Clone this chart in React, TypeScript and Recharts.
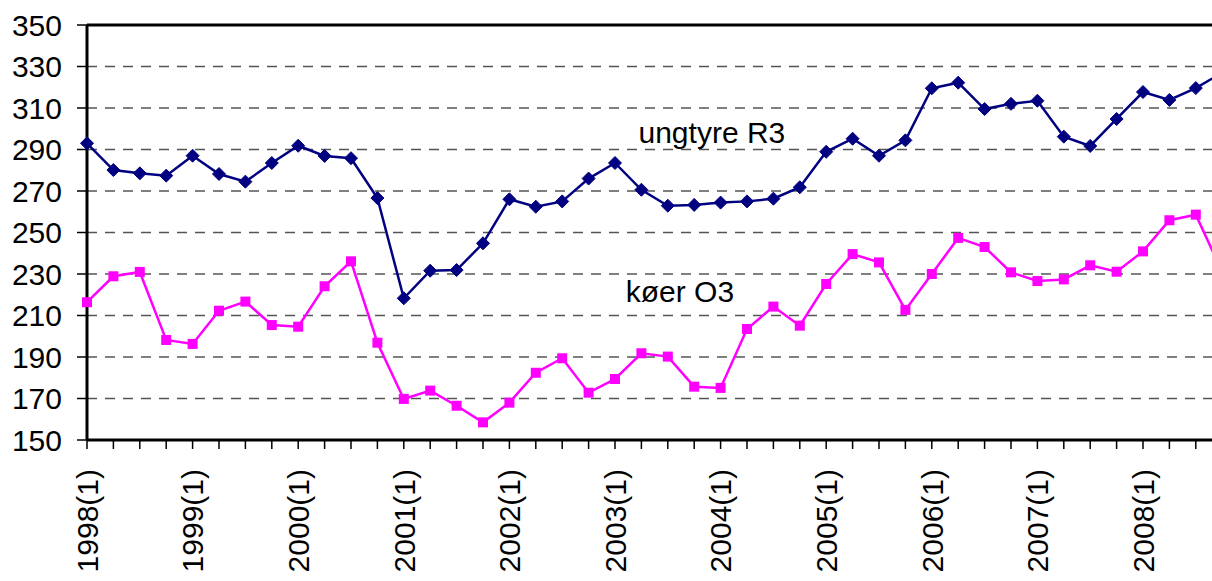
import React from 'react';
import {
  LineChart,
  Line,
  XAxis,
  YAxis,
  CartesianGrid,
  ReferenceLine,
  ReferenceDot,
} from 'recharts';

const years = ['1998', '1999', '2000', '2001', '2002', '2003', '2004', '2005', '2006', '2007', '2008'];
const quarters = years.flatMap((y) => [`${y}(1)`, `${y}(2)`, `${y}(3)`, `${y}(4)`]);

// ungtyre R3
const ungtyre = [
  293.0, 280.1, 278.5, 277.4, 287.0, 278.2, 274.5, 283.5,
  291.8, 286.9, 285.8, 266.6, 218.3, 231.6, 231.9, 244.8,
  266.0, 262.4, 265.0, 276.0, 283.5, 270.6, 262.9, 263.3,
  264.4, 265.0, 266.3, 271.8, 288.9, 295.2, 287.0, 294.4,
  319.5, 322.2, 309.5, 312.0, 313.5, 296.2, 291.7, 304.7,
  317.7, 313.9, 319.6, 327.0,
];

// køer O3
const koer = [
  216.4, 228.9, 231.0, 198.2, 196.3, 212.3, 216.7, 205.4,
  204.6, 224.1, 236.1, 196.9, 169.8, 173.8, 166.5, 158.5,
  168.0, 182.4, 189.4, 172.8, 179.4, 191.8, 190.2, 175.7,
  175.1, 203.5, 214.3, 205.1, 225.2, 239.6, 235.6, 212.7,
  230.0, 247.4, 243.0, 230.8, 226.6, 227.4, 234.2, 231.1,
  240.9, 255.9, 258.6, 231.0,
];

const yTicks = [150, 170, 190, 210, 230, 250, 270, 290, 310, 330, 350];

const data = quarters.map((q, i) => ({ i, q, ungtyre: ungtyre[i], koer: koer[i] }));
const xTicks = data.map((d) => d.i);

const FONT = '"Liberation Sans", Arial, sans-serif';

const Diamond = (props: any) => {
  const { cx, cy } = props;
  if (cx == null || cy == null) return null;
  const s = 6.5;
  return (
    <polygon
      points={`${cx},${cy - s} ${cx + s},${cy} ${cx},${cy + s} ${cx - s},${cy}`}
      fill="#000080"
      stroke="#000080"
      strokeWidth={1}
    />
  );
};

const Square = (props: any) => {
  const { cx, cy } = props;
  if (cx == null || cy == null) return null;
  const s = 5;
  return <rect x={cx - s} y={cy - s} width={s * 2} height={s * 2} fill="#FF00FF" />;
};

const XTick = (props: any) => {
  const { x, y, payload } = props;
  if (payload.value % 4 !== 0) return null;
  const label = quarters[payload.value];
  return (
    <text
      x={x}
      y={y + 18}
      transform={`rotate(-90, ${x}, ${y + 18})`}
      textAnchor="end"
      dy="0.36em"
      fontSize={30}
      fontFamily={FONT}
      fill="#000"
    >
      {label}
    </text>
  );
};

export default function App() {
  return (
    <div
      style={{
        position: 'absolute',
        left: 0,
        top: 0,
        width: 1212,
        height: 581,
        overflow: 'hidden',
        background: '#fff',
      }}
    >
      <LineChart
        width={1240}
        height={581}
        data={data}
        margin={{ top: 25, right: 17.8, left: 0, bottom: 0 }}
      >
        <CartesianGrid vertical={false} stroke="#555" strokeDasharray="10 8" strokeWidth={1.5} />
        <XAxis
          dataKey="i"
          type="number"
          domain={[0, 43]}
          ticks={xTicks}
          interval={0}
          height={141}
          tick={<XTick />}
          tickSize={9}
          tickLine={{ stroke: '#000', strokeWidth: 1.5 }}
          axisLine={{ stroke: '#000', strokeWidth: 3 }}
        />
        <YAxis
          type="number"
          domain={[150, 350]}
          ticks={yTicks}
          interval={0}
          width={87}
          tickSize={10}
          tickMargin={15}
          tick={{ fontSize: 30, fontFamily: FONT, fill: '#000' }}
          tickLine={{ stroke: '#000', strokeWidth: 1.5 }}
          axisLine={{ stroke: '#000', strokeWidth: 3 }}
        />
        <ReferenceLine y={350} stroke="#000" strokeWidth={3} />
        <Line
          dataKey="ungtyre"
          stroke="#000080"
          strokeWidth={2.5}
          dot={<Diamond />}
          isAnimationActive={false}
        />
        <Line
          dataKey="koer"
          stroke="#FF00FF"
          strokeWidth={2.5}
          dot={<Square />}
          isAnimationActive={false}
        />
        <ReferenceDot
          x={23.67}
          y={298.4}
          r={0}
          fill="none"
          stroke="none"
          label={{ value: 'ungtyre R3', position: 'center', fontSize: 30, fontFamily: FONT, fill: '#000' }}
        />
        <ReferenceDot
          x={22.46}
          y={221.8}
          r={0}
          fill="none"
          stroke="none"
          label={{ value: 'køer O3', position: 'center', fontSize: 30, fontFamily: FONT, fill: '#000' }}
        />
      </LineChart>
    </div>
  );
}
